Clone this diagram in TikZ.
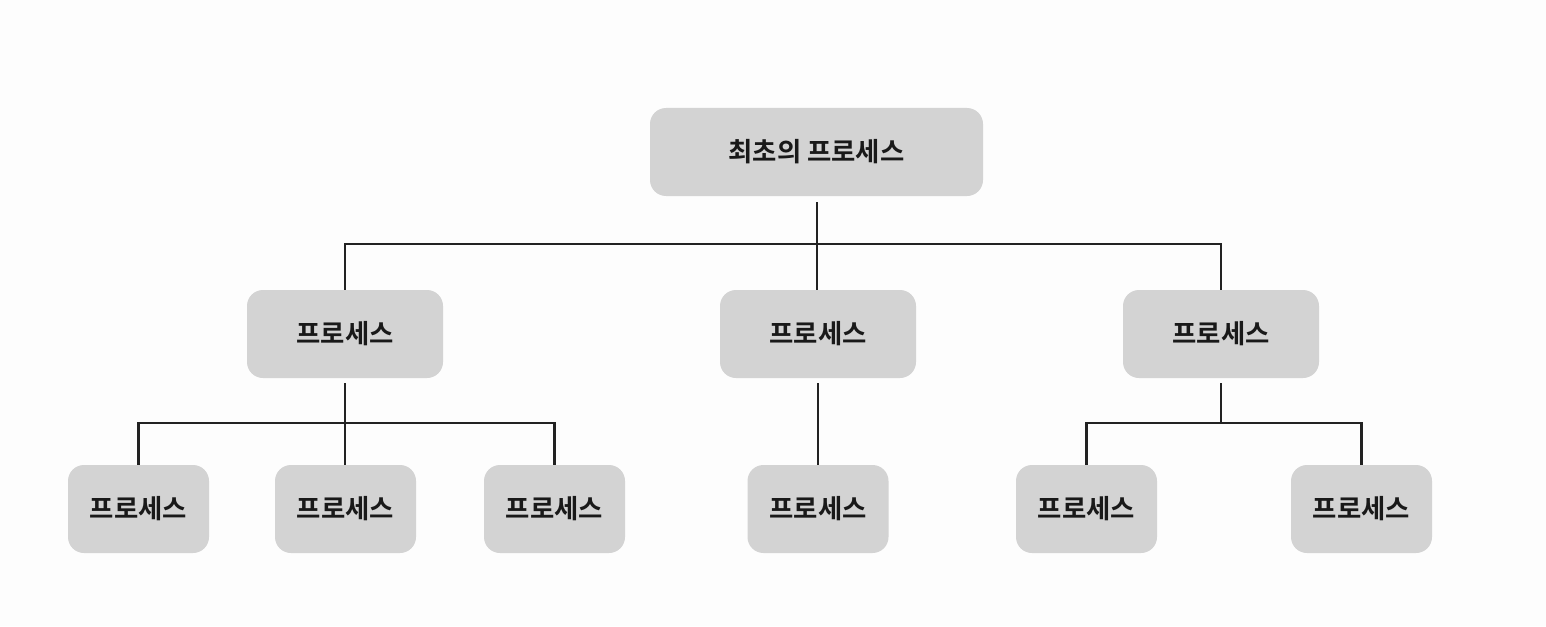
\documentclass[tikz,border=0pt]{standalone}
\usepackage{fontspec}
\newfontfamily\krfont{Noto Sans CJK KR}[BoldFont={Noto Sans CJK KR Bold}]
\definecolor{boxfill}{HTML}{D3D3D3}
\definecolor{linecol}{HTML}{222222}
\definecolor{bgcol}{HTML}{FDFDFD}
\begin{document}
\begin{tikzpicture}[x=0.5pt,y=-0.5pt,
  procbox/.style={fill=boxfill, rounded corners=8pt, minimum height=44pt, inner sep=0pt,
     font=\krfont\bfseries\fontsize{13.2pt}{15pt}\selectfont, text=black!90},
  conn/.style={draw=linecol, line width=1.1pt}]
\fill[bgcol] (0,0) rectangle (1546,626);
\useasboundingbox (0,0) rectangle (1546,626);
% root
\node[procbox, minimum width=166.5pt] (root) at (816.5,152) {최초의 프로세스};
% level 2
\node[procbox, minimum width=98pt] (p1) at (345,334) {프로세스};
\node[procbox, minimum width=98pt] (p2) at (818,334) {프로세스};
\node[procbox, minimum width=98pt] (p3) at (1221,334) {프로세스};
% level 3
\node[procbox, minimum width=70.5pt] (q1) at (138.5,509) {프로세스};
\node[procbox, minimum width=70.5pt] (q2) at (345.5,509) {프로세스};
\node[procbox, minimum width=70.5pt] (q3) at (554.5,509) {프로세스};
\node[procbox, minimum width=70.5pt] (q4) at (818,509) {프로세스};
\node[procbox, minimum width=70.5pt] (q5) at (1086.5,509) {프로세스};
\node[procbox, minimum width=70.5pt] (q6) at (1361.5,509) {프로세스};
% junctions
\coordinate (j0) at (817,244);
\coordinate (j0top) at (817,202);
\coordinate (j1) at (345,423);
\coordinate (j1top) at (345,383);
\coordinate (j3) at (1221,423);
\coordinate (j3top) at (1221,383);
% connectors level 1-2
\draw[conn] (j0top) -- (j0);
\draw[conn] (p1.north) |- (j0);
\draw[conn] (j0) -| (p3.north);
\draw[conn] (j0) -- (j0 |- p2.north);
% left group
\draw[conn] (j1top) -- (j1);
\draw[conn] (q1.north) |- (j1);
\draw[conn] (j1) -| (q3.north);
\draw[conn] (j1) -- (j1 |- q2.north);
% middle
\draw[conn] (818,383) -- (q4.north);
% right group
\draw[conn] (j3top) -- (j3);
\draw[conn] (q5.north) |- (j3);
\draw[conn] (j3) -| (q6.north);
\end{tikzpicture}
\end{document}
